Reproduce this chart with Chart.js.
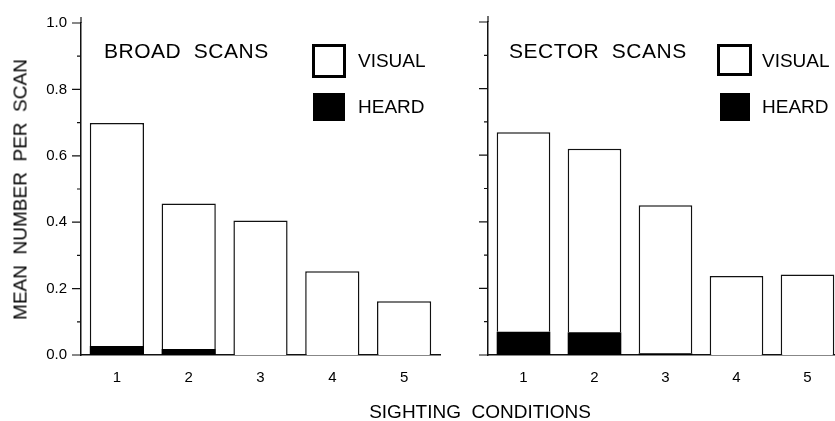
<!DOCTYPE html>
<html>
<head>
<meta charset="utf-8">
<script src="https://cdn.jsdelivr.net/npm/chart.js@4/dist/chart.umd.min.js"></script>
<style>
    html, body { margin: 0; padding: 0; background: #fff; overflow: hidden; }
    body { width: 835px; height: 421px; position: relative; font-family: "Liberation Sans", Arial, sans-serif; color: #000; }
    canvas { position: absolute; top: 0; }
    #broad { left: 0; }
    #sector { left: 450px; }
    .txt { position: absolute; white-space: pre; line-height: 1; }
    .panel { font-size: 21px; letter-spacing: 0.5px; }
    .leg { font-size: 19px; }
    .box { position: absolute; box-sizing: border-box; }
    .box.visual { border: 3px solid #000; background: #fff; }
    .box.heard { background: #000; }
</style>
</head>
<body>
<canvas id="broad" width="450" height="421"></canvas>
<canvas id="sector" width="400" height="421"></canvas>

<div class="txt panel" style="left:104px; top:40px;">BROAD  SCANS</div>
<div class="box visual" style="left:312px; top:44px; width:34px; height:34px;"></div>
<div class="txt leg" style="left:358px; top:51px;">VISUAL</div>
<div class="box heard" style="left:313px; top:93px; width:32px; height:28px;"></div>
<div class="txt leg" style="left:358px; top:97px;">HEARD</div>

<div class="txt panel" style="left:509px; top:40px;">SECTOR  SCANS</div>
<div class="box visual" style="left:717px; top:44px; width:35px; height:32px;"></div>
<div class="txt leg" style="left:762px; top:51px;">VISUAL</div>
<div class="box heard" style="left:720px; top:93px; width:30px; height:28px;"></div>
<div class="txt leg" style="left:762px; top:97px;">HEARD</div>

<div class="txt" style="left:-130px; top:180px; width:300px; height:19px; font-size:19px; text-align:center; transform:rotate(-90deg);">MEAN  NUMBER  PER  SCAN</div>
<div class="txt" style="left:330px; top:402px; width:300px; font-size:19px; text-align:center;">SIGHTING  CONDITIONS</div>

<script>
// Sighting conditions 1-5
const categories = ['1', '2', '3', '4', '5'];

// Broad scans: heard part at the bottom, visual part stacked on top
const broadHeard = [0.027, 0.018, 0, 0, 0];
const broadVisual = [0.672, 0.438, 0.405, 0.252, 0.162];

// Sector scans
const sectorHeard = [0.070, 0.068, 0.005, 0, 0];
const sectorVisual = [0.599, 0.551, 0.445, 0.237, 0.242];

const yTicks = [0, 0.2, 0.4, 0.6, 0.8, 1.0];

const ink = '#111';
const tickFont = { family: '"Liberation Sans", Arial, sans-serif', size: 15 };

// Major/minor tick marks on the y axis, plus the little overhangs of the axis lines
const tickMarks = {
    id: 'tickMarks',
    afterDraw(chart) {
        const ctx = chart.ctx;
        const y = chart.scales.y;
        const left = chart.chartArea.left;
        ctx.save();
        ctx.strokeStyle = ink;
        ctx.lineWidth = 1.2;
        ctx.beginPath();
        for (let i = 0; i <= 10; i++) {
            const py = y.getPixelForValue(i / 10);
            const len = i % 2 === 0 ? 9 : 4;
            ctx.moveTo(left - len, py);
            ctx.lineTo(left, py);
        }
        ctx.moveTo(left, y.top - 6);
        ctx.lineTo(left, y.top);
        ctx.moveTo(left - 8, y.bottom);
        ctx.lineTo(left, y.bottom);
        ctx.stroke();
        ctx.restore();
    }
};

function makeChart(id, heard, visual, opts) {
    return new Chart(document.getElementById(id), {
        type: 'bar',
        data: {
            labels: categories,
            datasets: [
                {
                    label: 'HEARD',
                    data: heard,
                    backgroundColor: '#000',
                    borderWidth: 0
                },
                {
                    label: 'VISUAL',
                    data: visual,
                    backgroundColor: '#fff',
                    borderColor: ink,
                    borderWidth: 1.5
                }
            ]
        },
        options: {
            responsive: false,
            animation: false,
            layout: { padding: { top: 22, right: opts.padRight, left: 0, bottom: 0 } },
            datasets: { bar: { barPercentage: 0.755, categoryPercentage: 1 } },
            plugins: { legend: { display: false }, tooltip: { enabled: false } },
            scales: {
                x: {
                    stacked: true,
                    grid: { display: false, drawTicks: false },
                    border: { display: true, color: ink, width: 1.5 },
                    ticks: { color: '#000', font: tickFont, padding: 14 },
                    afterFit: s => { s.height = 66; }
                },
                y: {
                    stacked: true,
                    min: 0,
                    max: 1,
                    afterBuildTicks: s => { s.ticks = yTicks.map(v => ({ value: v })); },
                    grid: { display: false, drawTicks: false },
                    border: { display: true, color: ink, width: 1.5 },
                    ticks: {
                        display: opts.showLabels,
                        color: '#000',
                        font: tickFont,
                        padding: 14,
                        callback: v => v.toFixed(1)
                    },
                    afterFit: s => { s.width = opts.axisWidth; }
                }
            }
        },
        plugins: [tickMarks]
    });
}

document.addEventListener('DOMContentLoaded', function() {
    makeChart('broad', broadHeard, broadVisual, { padRight: 10, axisWidth: 81, showLabels: true });
    makeChart('sector', sectorHeard, sectorVisual, { padRight: 7, axisWidth: 38, showLabels: false });
});
</script>
</body>
</html>
